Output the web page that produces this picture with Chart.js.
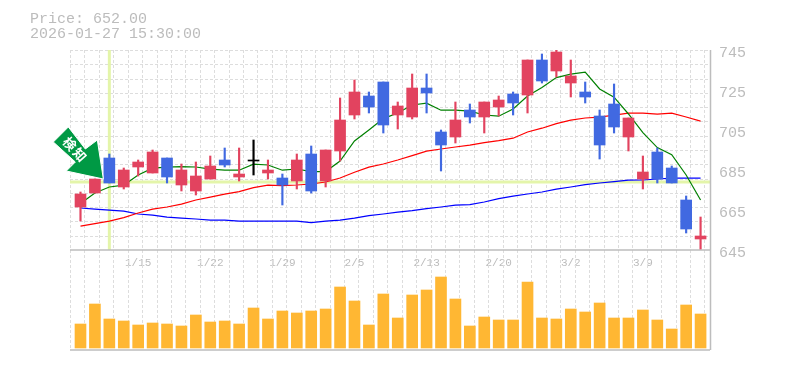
<!DOCTYPE html>
<html>
<head>
<meta charset="utf-8">
<style>
	html, body { margin: 0; padding: 0; background: #fff; }
	canvas { display: block; }
</style>
<script src="https://cdn.jsdelivr.net/npm/chart.js@4/dist/chart.umd.js"></script>
</head>
<body>
<canvas id="chart-price" width="785" height="370"></canvas>
<script>
const CATEGORIES = [
	"1/8", "1/9", "1/13", "1/14", "1/15", "1/16", "1/19", "1/20", "1/21", "1/22", "1/23",
	"1/26", "1/27", "1/28", "1/29", "1/30", "2/2", "2/3", "2/4", "2/5", "2/6", "2/9",
	"2/10", "2/12", "2/13", "2/16", "2/17", "2/18", "2/19", "2/20", "2/24", "2/25", "2/26",
	"2/27", "3/2", "3/3", "3/4", "3/5", "3/6", "3/9", "3/10", "3/11", "3/12", "3/13",
];
const OPENS = [
	668, 675, 692.5, 678, 688, 685, 692.5, 679, 676, 682, 691.5,
	683, 691.5, 685, 682.5, 681, 694.5, 681, 696, 714, 723.5, 730.5,
	714, 713, 727.5, 705.5, 703, 716.5, 713, 718, 724.5, 724, 741.5,
	736, 730, 725.5, 713.5, 719.5, 703, 682, 695.5, 687.5, 671.5, 652,
];
const CLOSES = [
	674.5, 682, 680, 686.5, 690.5, 695.5, 683, 686.5, 683.5, 688.5, 689,
	684.5, 691, 686.5, 679, 691.5, 676, 696.5, 711.5, 725.5, 718, 709,
	718.5, 727.5, 725, 699, 711.5, 713, 720.5, 721.5, 720, 741.5, 731,
	745.5, 733.5, 723, 699, 708, 712.5, 685.5, 682, 680, 657, 653.5,
];
const HIGHS = [
	675.5, 682, 694.5, 687.5, 691.5, 696.5, 692.5, 689.5, 690.5, 693.5, 697.5,
	697.5, 701.5, 691.5, 684.5, 694.5, 698.5, 696.5, 722.5, 731.5, 725.5, 730.5,
	720.5, 734.5, 734.5, 706.5, 720.5, 719.5, 720.5, 723.5, 725.5, 741.5, 744.5,
	746.5, 741.5, 730.5, 716.5, 729.5, 712.5, 693.5, 697.5, 688.5, 673.5, 663,
];
const LOWS = [
	661, 675, 680, 677, 683.5, 685, 680, 676, 674, 682, 688,
	681, 684, 682, 669, 677, 675, 678, 691, 712, 715, 705,
	707, 712, 715, 686, 700, 710, 705, 713.5, 714, 715, 730,
	733, 723, 720, 692, 705, 696, 677, 680, 680, 655, 647,
];
const MA_SHORT = [
	669.7, 675, 678, 678.9, 684, 687.4, 687.9, 688.2, 688, 686.9, 686.4,
	686.4, 689.4, 689, 686.4, 687, 685.7, 685.7, 691, 701, 706.5, 712.2,
	715, 719, 719.9, 716.4, 716.4, 715.9, 714, 713.4, 717, 723.5, 727.7,
	732.7, 734.4, 735.4, 727, 722.9, 714.5, 705.2, 697.7, 694.2, 684, 671.5,
];
const MA_MID = [
	658.4, 659.7, 660.9, 662.7, 665, 666.9, 668, 669.4, 671.5, 672.9, 674.4,
	675.7, 677.7, 678.9, 678.7, 679, 679.5, 680.5, 682.5, 685.4, 687.9, 689.5,
	691.5, 693.7, 695.9, 697, 698, 698.9, 700.2, 701.2, 702.4, 705.5, 707.4,
	709.7, 711.4, 712.5, 712.9, 713.9, 714.9, 714.9, 714.4, 714.9, 713, 710.9,
];
const MA_LONG = [
	667.5, 666.9, 666.4, 665.9, 664.5, 663.9, 662.9, 662.4, 662, 661.4, 661.4,
	660.9, 660.9, 660.9, 660.9, 660.9, 660.2, 660.9, 661.4, 662.4, 663.7, 664.5,
	665.4, 666.2, 667.2, 668, 668.9, 669.2, 670.5, 672.2, 673.4, 674.5, 675.5,
	676.9, 678, 679.2, 680, 680.7, 681.4, 681.5, 682, 682.4, 682.4, 682.4,
];
const VOLUMES = [
	24000, 44000, 29000, 27000, 23000, 25000, 24000, 22000, 33000, 26000, 27000,
	24000, 40000, 29000, 37000, 35000, 37000, 39000, 61000, 47000, 23000, 54000,
	30000, 53000, 58000, 71000, 49000, 22000, 31000, 28000, 28000, 66000, 30000,
	29000, 39000, 36000, 45000, 30000, 30000, 38000, 28000, 19000, 43000, 34000,
];
const PRICE_TICKS = [745, 725, 705, 685, 665, 645];
const DATE_TICKS = ["1/15", "1/22", "1/29", "2/5", "2/13", "2/20", "3/2", "3/9"];
const TITLE_LINES = ["Price: 652.00", "2026-01-27 15:30:00"];
const MARK_LABEL = "検知";
const MARK_INDEX = 2;
const MARK_PRICE = 680.5;

const RED = "#e2435f";
const BLUE = "#4169e1";
const GRID = "#dddddd";
const FRAME = "#bdbdbd";
const LIME = "#e4f5aa";
const TEXT = "#bcbcbc";
const MONO = "'Liberation Mono', monospace";

const X_MIN = -0.728;
const X_MAX = 43.654;
const PANEL_SPLIT = 646.5; // price at the line between candles and volume

const candleColor = (i) => {
	if (Math.abs(CLOSES[i] - OPENS[i]) <= 0.5) return "#000000";
	return CLOSES[i] > OPENS[i] ? RED : BLUE;
};

const lineSet = (label, data, color, width) => ({
	type: "line",
	label,
	data: data.map((y, x) => ({ x, y })),
	borderColor: color,
	borderWidth: width,
	pointRadius: 0,
	tension: 0,
	yAxisID: "y",
	order: 5,
});

const chartBackdrop = {
	id: "chartBackdrop",
	beforeDatasetsDraw(chart) {
		const { ctx, chartArea: area, scales } = chart;
		const splitY = scales.y.getPixelForValue(PANEL_SPLIT);
		ctx.save();

		// Dashed grid
		ctx.strokeStyle = GRID;
		ctx.lineWidth = 1;
		ctx.setLineDash([3, 2]);
		for (let k = 0; X_MIN + k < X_MAX; k++) {
			const x = Math.round(scales.x.getPixelForValue(X_MIN + k)) + 0.5;
			ctx.beginPath();
			ctx.moveTo(x, area.top);
			ctx.lineTo(x, area.bottom);
			ctx.stroke();
		}
		const rows = 14;
		for (let k = 0; k < rows; k++) {
			const y = Math.round(area.top + ((splitY - area.top) * k) / rows) + 0.5;
			ctx.beginPath();
			ctx.moveTo(area.left, y);
			ctx.lineTo(area.right, y);
			ctx.stroke();
		}
		ctx.setLineDash([]);

		// Crosshair on the marked candle
		ctx.strokeStyle = LIME;
		ctx.lineWidth = 3;
		const crossX = scales.x.getPixelForValue(MARK_INDEX);
		const crossY = scales.y.getPixelForValue(MARK_PRICE);
		ctx.beginPath();
		ctx.moveTo(crossX, area.top);
		ctx.lineTo(crossX, splitY);
		ctx.moveTo(area.left, crossY);
		ctx.lineTo(area.right, crossY);
		ctx.stroke();

		// Solid frame
		ctx.strokeStyle = FRAME;
		ctx.lineWidth = 1.5;
		ctx.beginPath();
		ctx.moveTo(area.right + 0.5, area.top);
		ctx.lineTo(area.right + 0.5, area.bottom);
		ctx.moveTo(area.left, splitY);
		ctx.lineTo(area.right, splitY);
		ctx.moveTo(area.left, area.bottom);
		ctx.lineTo(area.right, area.bottom);
		ctx.stroke();
		ctx.restore();
	},
	afterDatasetsDraw(chart) {
		const { ctx, scales } = chart;
		const tipX = scales.x.getPixelForValue(MARK_INDEX) - 6;
		const tipY = scales.y.getPixelForValue(MARK_PRICE) - 3;
		ctx.save();

		// Arrow, drawn relative to its tip
		ctx.translate(tipX, tipY);
		ctx.beginPath();
		ctx.moveTo(0, 0);
		ctx.lineTo(-37, -8);
		ctx.lineTo(-28, -17);
		ctx.lineTo(-50, -37);
		ctx.lineTo(-35, -52);
		ctx.lineTo(-18, -30);
		ctx.lineTo(-6, -39);
		ctx.closePath();
		ctx.fillStyle = "#009944";
		ctx.strokeStyle = "#ffffff";
		ctx.lineWidth = 1;
		ctx.fill();
		ctx.stroke();

		// Rotated label along the arrow
		ctx.translate(-28, -29);
		ctx.rotate((48 * Math.PI) / 180);
		ctx.fillStyle = "#ffffff";
		ctx.font = "bold 13px 'Noto Sans CJK JP'";
		ctx.letterSpacing = "2px";
		ctx.textAlign = "center";
		ctx.textBaseline = "middle";
		ctx.fillText(MARK_LABEL, 0, 0);
		ctx.restore();

		// Price readout
		ctx.save();
		ctx.fillStyle = TEXT;
		ctx.font = "15px " + MONO;
		ctx.textBaseline = "alphabetic";
		TITLE_LINES.forEach((line, i) => ctx.fillText(line, 30, 23 + i * 15));
		ctx.restore();
	},
};

new Chart(document.getElementById("chart-price"), {
	data: {
		datasets: [
			lineSet("Short", MA_SHORT, "#008000", 1.2),
			lineSet("Mid", MA_MID, "#ff0000", 1.2),
			lineSet("Long", MA_LONG, "#0000ff", 1.2),
			{
				type: "bar",
				label: "Volume",
				data: VOLUMES.map((y, x) => ({ x, y })),
				backgroundColor: "#ffb733",
				barThickness: 11,
				grouped: false,
				yAxisID: "vol",
				order: 4,
			},
			{
				type: "bar",
				label: "Wick",
				data: HIGHS.map((high, x) => ({ x, y: [LOWS[x], high] })),
				backgroundColor: HIGHS.map((_, i) => candleColor(i)),
				barThickness: 1.5,
				grouped: false,
				yAxisID: "y",
				order: 2,
			},
			{
				type: "bar",
				label: "Body",
				data: OPENS.map((open, x) => ({ x, y: [open, CLOSES[x]] })),
				backgroundColor: OPENS.map((_, i) => candleColor(i)),
				barThickness: 11,
				grouped: false,
				yAxisID: "y",
				order: 1,
			},
		],
	},
	options: {
		responsive: false,
		animation: false,
		events: [],
		layout: { padding: { left: 70, top: 50, right: 0, bottom: 20 } },
		plugins: {
			legend: { display: false },
			title: { display: false },
			tooltip: { enabled: false },
		},
		scales: {
			x: {
				type: "linear",
				position: { y: PANEL_SPLIT },
				min: X_MIN,
				max: X_MAX,
				offset: false,
				grid: { display: false, drawTicks: false },
				border: { display: false },
				afterBuildTicks: (scale) => {
					scale.ticks = DATE_TICKS.map((label) => ({ value: CATEGORIES.indexOf(label) }));
				},
				ticks: {
					autoSkip: false,
					maxRotation: 0,
					padding: 6,
					color: TEXT,
					font: { family: MONO, size: 11 },
					callback: (value) => CATEGORIES[value],
				},
			},
			y: {
				position: "right",
				min: 596.5,
				max: 746.5,
				grid: { display: false, drawTicks: false },
				border: { display: false },
				afterBuildTicks: (scale) => {
					scale.ticks = PRICE_TICKS.map((value) => ({ value }));
				},
				afterFit: (scale) => {
					scale.width = 75;
				},
				ticks: {
					autoSkip: false,
					padding: 9,
					color: TEXT,
					font: { family: MONO, size: 15 },
				},
			},
			vol: {
				display: false,
				position: "left",
				min: -2000,
				max: 298000,
			},
		},
	},
	plugins: [chartBackdrop],
});
</script>
</body>
</html>
